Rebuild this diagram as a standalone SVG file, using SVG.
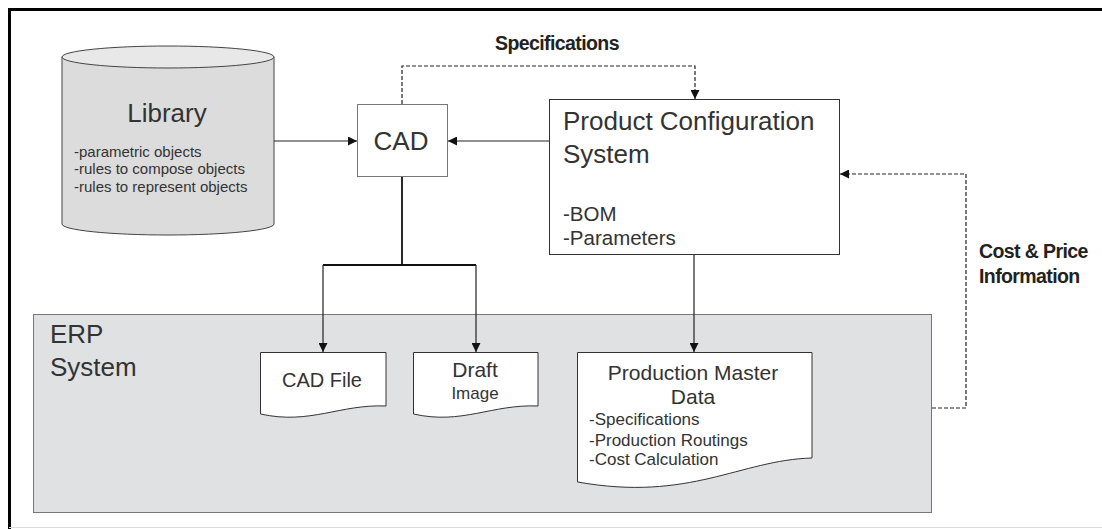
<svg xmlns="http://www.w3.org/2000/svg" width="1102" height="529" viewBox="0 0 1102 529">
<style>
text{font-family:"Liberation Sans",Arial,sans-serif;fill:#333}
.big{font-size:26px}
.mid{font-size:20.5px}
.sm{font-size:15px}
.lbl{font-size:19.5px;font-weight:bold;fill:#222;letter-spacing:-0.6px}
.doc{fill:#fff;stroke:#333;stroke-width:1}
.ln{fill:none;stroke:#222;stroke-width:1.2}
.thick{fill:none;stroke:#111;stroke-width:1.8}
.dash{fill:none;stroke:#222;stroke-width:1.2;stroke-dasharray:4 2}
</style>
<defs>
<marker id="ah" viewBox="0 0 10 10" refX="10" refY="5" markerWidth="10" markerHeight="9" markerUnits="userSpaceOnUse" orient="auto">
<path d="M0,0 L10,5 L0,10 Z" fill="#111"/>
</marker>
</defs>
<rect x="0" y="0" width="1102" height="529" fill="#fff"/>
<path d="M9.5,529 V9.5 H1102" fill="none" stroke="#000" stroke-width="3"/>
<line x1="9" y1="527.5" x2="1102" y2="527.5" stroke="#ddd" stroke-width="1"/>

<g id="erp">
<rect x="33.5" y="314.5" width="898" height="198" fill="#e0e1e3" stroke="#777" stroke-width="1"/>
<text class="big" x="50" y="343">ERP</text>
<text class="big" x="50" y="376">System</text>
</g>

<g id="library">
<path d="M62,57 V224 A106,11 0 0 0 274,224 V57" fill="#dcdcdc" stroke="#444" stroke-width="1"/>
<ellipse cx="168" cy="57" rx="106" ry="11" fill="#e8e8e8" stroke="#444" stroke-width="1"/>
<text class="big" x="167" y="122" text-anchor="middle">Library</text>
<text class="sm" x="74" y="157">-parametric objects</text>
<text class="sm" x="74" y="174">-rules to compose objects</text>
<text class="sm" x="74" y="192">-rules to represent objects</text>
</g>

<g id="cad">
<rect x="357.5" y="104.5" width="90" height="72" fill="#fff" stroke="#777" stroke-width="1"/>
<text class="big" x="401" y="150" text-anchor="middle">CAD</text>
</g>

<g id="pcs">
<rect x="549.5" y="99.5" width="290" height="155" fill="#fff" stroke="#333" stroke-width="1"/>
<text class="big" x="563" y="130">Product Configuration</text>
<text class="big" x="563" y="163">System</text>
<text class="mid" x="563" y="221">-BOM</text>
<text class="mid" x="563" y="245">-Parameters</text>
</g>

<g id="cadfile">
<path class="doc" d="M260.5,352.5 H386 V406 C340,404 310,425 260.5,414 Z"/>
<text x="322" y="387" text-anchor="middle" style="font-size:20px">CAD File</text>
</g>

<g id="draft">
<path class="doc" d="M413.5,352.5 H538 V406 C492,404 462,425 413.5,414 Z"/>
<text x="475" y="377" text-anchor="middle" style="font-size:21px">Draft</text>
<text x="475" y="399" text-anchor="middle" style="font-size:17px">Image</text>
</g>

<g id="pmd">
<path class="doc" d="M577.5,352.5 H812 V458 C740,460 690,502 577.5,482 Z"/>
<text x="693" y="380" text-anchor="middle" style="font-size:21px">Production Master</text>
<text x="693" y="404" text-anchor="middle" style="font-size:21px">Data</text>
<text x="589" y="425" style="font-size:17px">-Specifications</text>
<text x="589" y="446" style="font-size:17px">-Production Routings</text>
<text x="589" y="465" style="font-size:17px">-Cost Calculation</text>
</g>

<g id="connectors">
<line class="ln" x1="274" y1="141" x2="357" y2="141" marker-end="url(#ah)"/>
<line class="ln" x1="549" y1="141" x2="448" y2="141" marker-end="url(#ah)"/>
<path class="dash" d="M402,104 V66 H695 V99" marker-end="url(#ah)"/>
<text class="lbl" x="557" y="50" text-anchor="middle">Specifications</text>
<path class="thick" d="M402,177 V265"/>
<path class="thick" d="M323,265 H476"/>
<path class="ln" d="M323,265 V352" marker-end="url(#ah)"/>
<path class="ln" d="M476,265 V352" marker-end="url(#ah)"/>
<path class="ln" d="M694,255 V352" marker-end="url(#ah)"/>
<path class="dash" d="M932,408 H966 V174 H840" marker-end="url(#ah)"/>
<text class="lbl" x="979" y="258">Cost &amp; Price</text>
<text class="lbl" x="979" y="283">Information</text>
</g>
</svg>
